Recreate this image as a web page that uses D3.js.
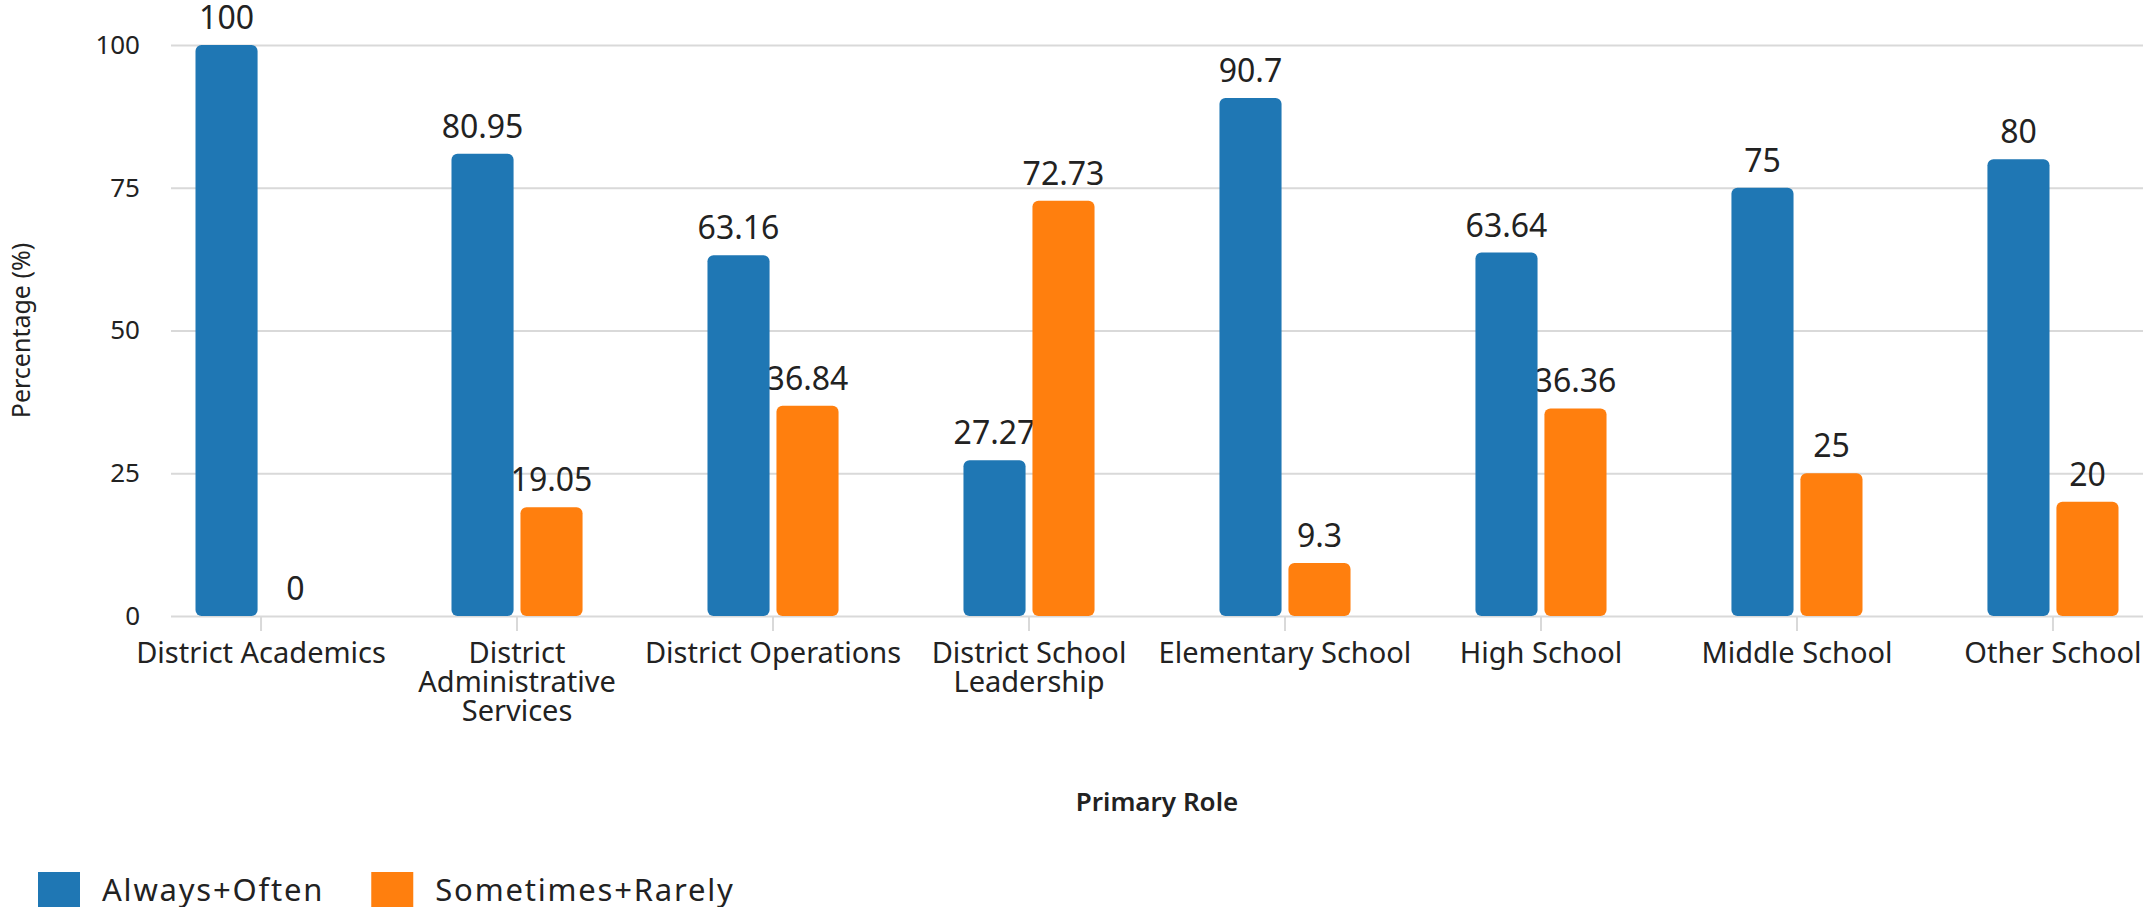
<!DOCTYPE html>
<html>
<head>
<meta charset="utf-8">
<script src="https://cdn.jsdelivr.net/npm/d3@7"></script>
<style>
  html, body { margin: 0; padding: 0; background: #fff; overflow: hidden; }
  svg { display: block; font-family: "Noto Sans", "Open Sans", sans-serif; }
</style>
</head>
<body>
<svg id="chart" width="2143" height="907"></svg>
<script>
// Share of respondents by primary role
const categories = [
  "District Academics",
  "District Administrative Services",
  "District Operations",
  "District School Leadership",
  "Elementary School",
  "High School",
  "Middle School",
  "Other School"
];
const seriesNames = ["Always+Often", "Sometimes+Rarely"];
const alwaysOften = [100, 80.95, 63.16, 27.27, 90.7, 63.64, 75, 80];
const sometimesRarely = [0, 19.05, 36.84, 72.73, 9.3, 36.36, 25, 20];
const yTicks = [0, 25, 50, 75, 100];
const seriesColors = ["#1f77b4", "#ff7f0e"];

const seriesValues = [alwaysOften, sometimesRarely];
const rows = [];
categories.forEach((c, i) => {
  seriesNames.forEach((s, j) => rows.push({ category: c, series: s, value: seriesValues[j][i] }));
});

const svg = d3.select("#chart");
const textColor = "#222";
const gridColor = "#d9d9d9";

const plot = { left: 171, right: 2143, top: 45, bottom: 616 };

const x = d3.scaleBand()
  .domain(categories)
  .range([plot.left, plot.right])
  .paddingInner(0.488)
  .paddingOuter(0.0957);

const x1 = d3.scaleBand()
  .domain(seriesNames)
  .range([0, x.bandwidth()])
  .paddingInner(0.1)
  .paddingOuter(0);

const y = d3.scaleLinear().domain([0, 100]).range([plot.bottom, plot.top]);
const color = d3.scaleOrdinal().domain(seriesNames).range(seriesColors);

// Horizontal grid lines with the y tick labels
const yAxis = svg.append("g")
  .attr("transform", `translate(${plot.left},0)`)
  .call(d3.axisLeft(y).tickValues(yTicks).tickSize(-(plot.right - plot.left)).tickPadding(31));
yAxis.select(".domain").remove();
yAxis.selectAll(".tick line").attr("stroke", gridColor).attr("stroke-width", 2);
yAxis.selectAll(".tick text")
  .attr("fill", textColor)
  .attr("font-size", 26)
  .attr("font-family", "Noto Sans, sans-serif");

// Category axis, long names wrapped onto several lines
const maxChars = 20;
function wrapLabel(label) {
  const words = label.split(" ");
  const lines = [];
  let line = "";
  words.forEach(w => {
    const next = line ? line + " " + w : w;
    if (next.length > maxChars && line) { lines.push(line); line = w; }
    else line = next;
  });
  if (line) lines.push(line);
  return lines;
}

const xAxis = svg.append("g")
  .attr("transform", `translate(0,${plot.bottom})`)
  .call(d3.axisBottom(x).tickSize(15));
xAxis.select(".domain").remove();
xAxis.selectAll(".tick line").attr("stroke", gridColor).attr("stroke-width", 2);
xAxis.selectAll(".tick text").each(function(d) {
  const t = d3.select(this);
  t.text(null)
    .attr("y", 0).attr("dy", null)
    .attr("fill", textColor)
    .attr("font-size", 29)
    .attr("font-family", "Noto Sans, sans-serif");
  wrapLabel(d).forEach((ln, i) => {
    t.append("tspan").attr("x", 0).attr("y", 47 + i * 29).text(ln);
  });
});

// Value labels (drawn beneath the bars)
svg.append("g")
  .selectAll("text")
  .data(rows)
  .join("text")
  .attr("x", d => x(d.category) + x1(d.series) + x1.bandwidth() / 2)
  .attr("y", d => y(d.value) - 16)
  .attr("text-anchor", "middle")
  .attr("fill", textColor)
  .attr("font-size", 32)
  .text(d => d.value);

// Bars
svg.append("g")
  .selectAll("rect")
  .data(rows.filter(d => d.value > 0))
  .join("rect")
  .attr("x", d => x(d.category) + x1(d.series))
  .attr("y", d => y(d.value))
  .attr("width", x1.bandwidth())
  .attr("height", d => y(0) - y(d.value))
  .attr("rx", 6)
  .attr("fill", d => color(d.series));

// Axis titles
svg.append("text")
  .attr("transform", `translate(20,${y(50)}) rotate(-90)`)
  .attr("text-anchor", "middle")
  .attr("dominant-baseline", "central")
  .attr("fill", textColor)
  .attr("font-size", 25)
  .text("Percentage (%)");

svg.append("text")
  .attr("x", (plot.left + plot.right) / 2)
  .attr("y", 811)
  .attr("text-anchor", "middle")
  .attr("fill", textColor)
  .attr("font-size", 26)
  .attr("font-weight", 600)
  .text("Primary Role");

// Legend
const legend = svg.append("g");
let lx = 38;
seriesNames.forEach(s => {
  legend.append("rect")
    .attr("x", lx).attr("y", 872)
    .attr("width", 42).attr("height", 42)
    .attr("fill", color(s));
  const t = legend.append("text")
    .attr("x", lx + 64).attr("y", 901)
    .attr("fill", textColor)
    .attr("font-size", 31)
    .attr("letter-spacing", 1.8)
    .text(s);
  lx += 64 + t.node().getComputedTextLength() + 47;
});
</script>
</body>
</html>
